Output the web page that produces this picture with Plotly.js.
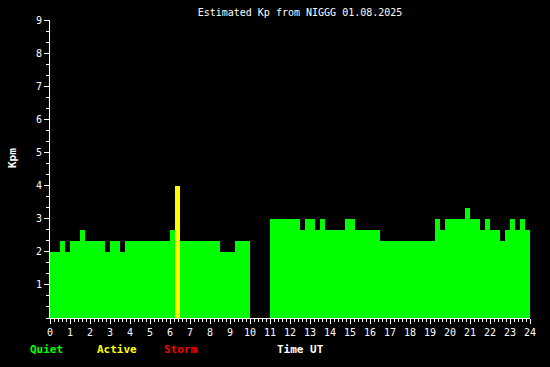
<!DOCTYPE html>
<html><head><meta charset="utf-8">
<script src="https://cdn.plot.ly/plotly-3.0.1.min.js"></script>
<style>html,body{margin:0;padding:0;background:#000;}#chart{width:550px;height:367px;}</style>
</head><body><div id="chart"></div>
<script>
// Start hour of each 15-minute slot
const slotStart = [
 0,0.25,0.5,0.75, 1,1.25,1.5,1.75, 2,2.25,2.5,2.75, 3,3.25,3.5,3.75,
 4,4.25,4.5,4.75, 5,5.25,5.5,5.75, 6,6.25,6.5,6.75, 7,7.25,7.5,7.75,
 8,8.25,8.5,8.75, 9,9.25,9.5,9.75, 10,10.25,10.5,10.75, 11,11.25,11.5,11.75,
 12,12.25,12.5,12.75, 13,13.25,13.5,13.75, 14,14.25,14.5,14.75, 15,15.25,15.5,15.75,
 16,16.25,16.5,16.75, 17,17.25,17.5,17.75, 18,18.25,18.5,18.75, 19,19.25,19.5,19.75,
 20,20.25,20.5,20.75, 21,21.25,21.5,21.75, 22,22.25,22.5,22.75, 23,23.25,23.5,23.75
];
const slotHours = 0.25;
// Estimated Kp per slot (null = no data)
const kp = [
 2,2,2.33,2, 2.33,2.33,2.67,2.33, 2.33,2.33,2.33,2, 2.33,2.33,2,2.33,
 2.33,2.33,2.33,2.33, 2.33,2.33,2.33,2.33, 2.67,4,2.33,2.33, 2.33,2.33,2.33,2.33,
 2.33,2.33,2,2, 2,2.33,2.33,2.33, null,null,null,null, 3,3,3,3,
 3,3,2.67,3, 3,2.67,3,2.67, 2.67,2.67,2.67,3, 3,2.67,2.67,2.67,
 2.67,2.67,2.33,2.33, 2.33,2.33,2.33,2.33, 2.33,2.33,2.33,2.33, 2.33,3,2.67,3,
 3,3,3,3.33, 3,3,2.67,3, 2.67,2.67,2.33,2.67, 3,2.67,3,2.67
];
const xTickVals = [0,1,2,3,4,5,6,7,8,9,10,11,12,13,14,15,16,17,18,19,20,21,22,23,24];
const yTickVals = [1,2,3,4,5,6,7,8,9];
const levelNames = ["Quiet","Active","Storm"];
const levelColors = ["#00ff00","#ffff00","#ff0000"];

function colorFor(v){ return v >= 5 ? levelColors[2] : (v >= 4 ? levelColors[1] : levelColors[0]); }

const trace = {
  type: 'bar',
  x: slotStart.map(s => s + slotHours/2),
  y: kp,
  width: slotStart.map(() => slotHours),
  marker: {color: kp.map(v => colorFor(v == null ? 0 : v)), line: {width: 0}},
  hoverinfo: 'x+y'
};

const mono = "DejaVu Sans Mono, monospace";
const W = 480, H = 298;
function px(x){ return (x - 50) / W; }
function py(y){ return (318 - y) / H; }

const annotations = [
  {text: "Kpm", x: px(12), y: py(158), textangle: -90, font: {family: mono, size: 11, color: '#fff', weight: 'bold'}},
  {text: levelNames[0], x: px(28), y: py(349), xanchor: 'left', font: {family: mono, size: 11, color: levelColors[0], weight: 'bold'}},
  {text: levelNames[1], x: px(95), y: py(349), xanchor: 'left', font: {family: mono, size: 11, color: levelColors[1], weight: 'bold'}},
  {text: levelNames[2], x: px(162), y: py(349), xanchor: 'left', font: {family: mono, size: 11, color: levelColors[2], weight: 'bold'}},
  {text: "Time UT", x: px(275), y: py(349), xanchor: 'left', font: {family: mono, size: 11, color: '#fff', weight: 'bold'}}
].map(a => Object.assign({xref: 'paper', yref: 'paper', showarrow: false, yanchor: 'middle', xanchor: a.xanchor || 'center'}, a));

const layout = {
  width: 550, height: 367,
  paper_bgcolor: '#000', plot_bgcolor: '#000',
  margin: {l: 50, r: 20, t: 20, b: 49, pad: 0},
  showlegend: false,
  bargap: 0,
  title: {text: "Estimated Kp from NIGGG 01.08.2025", x: px(300), xref: 'paper', xanchor: 'center', y: 1 - 12/367, yanchor: 'middle',
          font: {family: mono, size: 10, color: '#fff'}},
  xaxis: {range: [0, 24], tickvals: xTickVals, ticktext: xTickVals.map(String), ticks: 'outside', ticklen: 5, tickwidth: 1, tickcolor: '#fff',
          showline: true, linecolor: '#fff', linewidth: 1, showgrid: false, zeroline: false, layer: 'below traces',
          tickfont: {family: mono, size: 10, color: '#fff'},
          minor: {dtick: 0.2, tick0: 0, ticks: 'outside', ticklen: 3, tickcolor: '#fff', tickwidth: 1, showgrid: false}},
  yaxis: {range: [0, 9], tickvals: yTickVals, ticks: 'outside', ticklen: 5, tickwidth: 1, tickcolor: '#fff',
          showline: true, linecolor: '#fff', linewidth: 1, showgrid: false, zeroline: false, layer: 'below traces',
          tickfont: {family: mono, size: 10, color: '#fff'},
          minor: {dtick: 1/3, tick0: 0, ticks: 'outside', ticklen: 3, tickcolor: '#fff', tickwidth: 1, showgrid: false}},
  annotations: annotations
};

Plotly.newPlot('chart', [trace], layout, {displayModeBar: false, staticPlot: true});
</script>
</body></html>
